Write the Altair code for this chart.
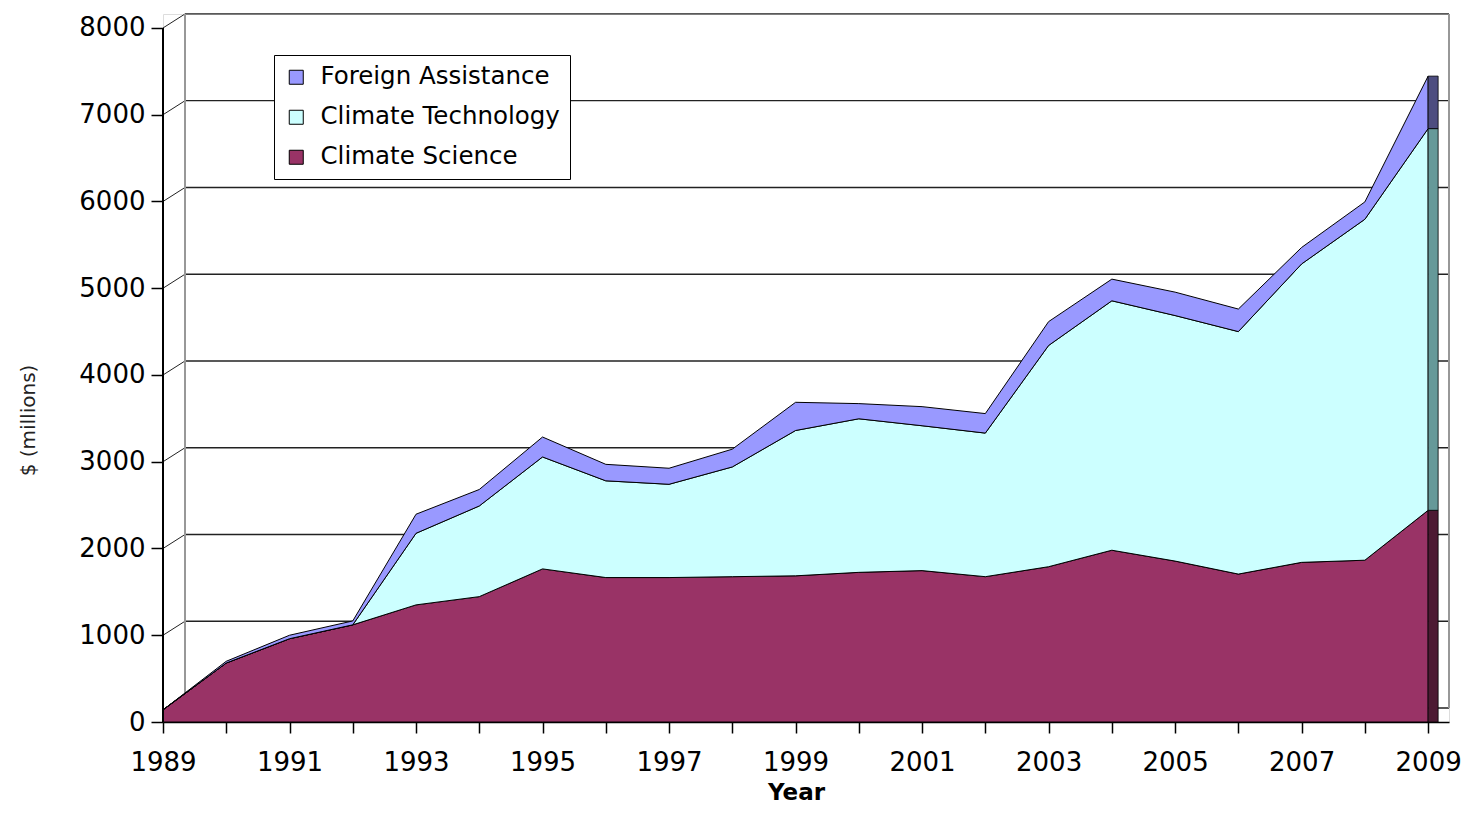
import altair as alt
import pandas as pd

# ---------------- data ----------------
years = list(range(1989, 2010))
climate_science = [140, 680, 960, 1120, 1350, 1445, 1765, 1665, 1665, 1675, 1685,
                   1725, 1745, 1675, 1790, 1980, 1855, 1705, 1840, 1865, 2440]
climate_technology = [0, 0, 0, 0, 825, 1045, 1290, 1115, 1075, 1265, 1675,
                      1770, 1670, 1655, 2550, 2875, 2830, 2795, 3440, 3930, 4400]
foreign_assistance = [0, 20, 40, 45, 220, 190, 230, 190, 185, 205, 325,
                      175, 220, 225, 275, 250, 270, 260, 190, 200, 605]

series_names = ["Foreign Assistance", "Climate Technology", "Climate Science"]
series_colors = ["#9999FF", "#CCFFFF", "#993366"]
side_colors = ["#4D4D80", "#669999", "#4D1A33"]
y_ticks = [0, 1000, 2000, 3000, 4000, 5000, 6000, 7000, 8000]

# ---------------- layout / style constants ----------------
W, H = 1286, 708
DX, DY = 22, 14           # 3-D depth of the back wall, pixels
X_MAX = 2009.33
Y_MAX = 8161
FONT = "DejaVu Sans"

rows = []
for i, y in enumerate(years):
    for k, (name, vals) in enumerate([("Climate Science", climate_science),
                                      ("Climate Technology", climate_technology),
                                      ("Foreign Assistance", foreign_assistance)]):
        rows.append({"year": y, "series": name, "value": vals[i], "stack": k,
                     "side": side_colors[series_names.index(name)]})
df = pd.DataFrame(rows)
grid_df = pd.DataFrame({"v": y_ticks})

xscale = alt.Scale(domain=[years[0], X_MAX], nice=False, zero=False)
yscale = alt.Scale(domain=[0, Y_MAX], nice=False)

# back-wall gridlines
back_grid = alt.Chart(grid_df).mark_rule(color="#222222", strokeWidth=1.3, yOffset=-DY).encode(
    y=alt.Y("v:Q", scale=yscale, axis=None),
    x=alt.value(DX), x2=alt.value(W),
)
# depth lines from front ticks to the back wall
depth = alt.Chart(grid_df).mark_rule(color="#222222", strokeWidth=1, y2Offset=-DY).encode(
    y=alt.Y("v:Q", scale=yscale, axis=None),
    y2=alt.Y2("v"),
    x=alt.value(0), x2=alt.value(DX),
)
left_wall = alt.Chart(grid_df).mark_rule(color="#999999", strokeWidth=1.5, yOffset=-DY, y2Offset=-DY).encode(
    y=alt.Y(datum=y_ticks[-1], scale=yscale, axis=None),
    y2=alt.Y2(datum=y_ticks[0]),
    x=alt.value(DX),
)
right_wall = alt.Chart(grid_df).mark_rule(color="#999999", strokeWidth=1.5, yOffset=-DY, y2Offset=-DY).encode(
    y=alt.Y(datum=y_ticks[-1], scale=yscale, axis=None),
    y2=alt.Y2(datum=y_ticks[0]),
    x=alt.value(W),
)

areas = alt.Chart(df).mark_area(stroke="black", strokeWidth=1, opacity=1).encode(
    x=alt.X("year:Q", scale=xscale,
            axis=alt.Axis(values=years, title="Year", grid=False,
                          labelExpr="datum.value % 2 == 1 ? datum.value : ''",
                          tickSize=11, tickColor="black", domainColor="black",
                          domainWidth=1.5, tickWidth=1.5,
                          labelFontSize=26, labelColor="black", labelFont=FONT,
                          labelBaseline="alphabetic", labelPadding=37,
                          labelFlush=False, labelOverlap=False,
                          titleFontSize=23, titleFontWeight="bold", titleFont=FONT,
                          titleColor="black", titleX=633, titleY=77,
                          titleBaseline="alphabetic", titleAlign="center")),
    y=alt.Y("value:Q", stack="zero", scale=yscale,
            axis=alt.Axis(values=y_ticks, format="d", title="$ (millions)", grid=False, domain=False,
                          tickSize=12, tickColor="black", tickWidth=1.5,
                          labelFontSize=26, labelColor="black", labelFont=FONT,
                          labelPadding=6,
                          titleFontSize=20, titleFontWeight="normal", titleFont=FONT,
                          titleColor="#222222", titleAngle=-90, titleX=-135, titleY=406,
                          titleBaseline="middle", titleAlign="center")),
    color=alt.Color("series:N",
                    scale=alt.Scale(domain=series_names, range=series_colors),
                    legend=alt.Legend(orient="none", legendX=111, legendY=41, title=None,
                                      labelFontSize=24.5, labelFont=FONT, labelColor="black",
                                      labelLimit=0,
                                      symbolType="square", symbolSize=196,
                                      symbolStrokeColor="black", symbolStrokeWidth=1,
                                      symbolOpacity=1,
                                      strokeColor="black", fillColor="white",
                                      padding=10, rowPadding=15, labelOffset=12)),
    order=alt.Order("stack:Q"),
)

side = alt.Chart(df).transform_filter(
    alt.datum.year == years[-1]
).transform_stack(
    stack="value", groupby=["year"], as_=["y0", "y1"], sort=[alt.SortField("stack")]
).mark_rect(x2Offset=10, stroke="black", strokeWidth=0.8).encode(
    x=alt.X("year:Q", scale=xscale, axis=None),
    x2=alt.X2("year"),
    y=alt.Y("y0:Q", scale=yscale, axis=None),
    y2=alt.Y2("y1"),
    color=alt.Color("side:N", scale=None, legend=None),
)

y_axis_line = alt.Chart(grid_df).mark_rule(color="black", strokeWidth=1.5).encode(
    y=alt.Y(datum=y_ticks[0], scale=yscale, axis=None),
    y2=alt.Y2(datum=y_ticks[-1]),
    x=alt.value(0),
)

chart = alt.layer(back_grid, depth, left_wall, right_wall, areas, side, y_axis_line).resolve_scale(
    color="independent"
).resolve_axis(
    x="independent", y="independent"
).properties(
    width=W, height=H,
    autosize=alt.AutoSizeParams(type="none"),
    padding={"left": 155, "top": 6, "right": 13, "bottom": 84},
    background="white",
).configure_view(stroke=None).configure(font=FONT)

chart.save("out.html", embed_options={"renderer": "svg", "actions": False})
